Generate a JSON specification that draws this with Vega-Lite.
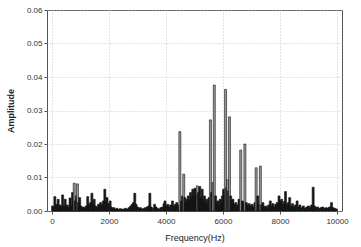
{
  "$schema": "https://vega.github.io/schema/vega-lite/v6.json",
  "width": 295,
  "height": 201,
  "autosize": "none",
  "padding": {"left": 47, "top": 10, "right": 19, "bottom": 36},
  "background": "white",
  "config": {
    "view": {"stroke": "#555", "strokeWidth": 1},
    "font": "Liberation Sans",
    "axis": {"labelFont": "Liberation Sans", "titleFont": "Liberation Sans", "labelColor": "#333", "titleColor": "#222", "labelFontSize": 8, "titleFontSize": 9, "domain": false, "tickColor": "#555", "tickSize": 3, "gridColor": "#bbb", "gridDash": [1, 2], "gridWidth": 0.8}
  },
  "data": {"values": [
    {"f":20,"a":0.0015},{"f":60,"a":0.001},{"f":100,"a":0.0043},{"f":140,"a":0.0015},{"f":180,"a":0.002},{"f":215,"a":0.0035},{"f":250,"a":0.0012},{"f":290,"a":0.0018},{"f":330,"a":0.001},{"f":373,"a":0.0048},{"f":410,"a":0.0015},{"f":463,"a":0.0035},{"f":500,"a":0.0012},{"f":540,"a":0.0018},{"f":590,"a":0.001},{"f":633,"a":0.0039},{"f":680,"a":0.0015},{"f":720,"a":0.0055},{"f":750,"a":0.002},{"f":780,"a":0.0083},{"f":820,"a":0.003},{"f":860,"a":0.0045},{"f":893,"a":0.0081},{"f":930,"a":0.0025},{"f":972,"a":0.004},{"f":1010,"a":0.0015},{"f":1060,"a":0.001},{"f":1100,"a":0.0012},{"f":1150,"a":0.0008},{"f":1200,"a":0.0015},{"f":1254,"a":0.0043},{"f":1300,"a":0.0018},{"f":1350,"a":0.0025},{"f":1400,"a":0.0053},{"f":1440,"a":0.002},{"f":1480,"a":0.0035},{"f":1530,"a":0.0015},{"f":1580,"a":0.001},{"f":1630,"a":0.002},{"f":1680,"a":0.0015},{"f":1705,"a":0.0025},{"f":1760,"a":0.0018},{"f":1800,"a":0.003},{"f":1854,"a":0.0065},{"f":1890,"a":0.0028},{"f":1930,"a":0.004},{"f":1970,"a":0.0022},{"f":2040,"a":0.003},{"f":2080,"a":0.0012},{"f":2120,"a":0.0008},{"f":2170,"a":0.001},{"f":2220,"a":0.0006},{"f":2280,"a":0.0008},{"f":2340,"a":0.0005},{"f":2400,"a":0.0007},{"f":2460,"a":0.0005},{"f":2520,"a":0.0006},{"f":2580,"a":0.0008},{"f":2640,"a":0.0006},{"f":2700,"a":0.001},{"f":2760,"a":0.0015},{"f":2810,"a":0.002},{"f":2860,"a":0.0025},{"f":2905,"a":0.0053},{"f":2950,"a":0.002},{"f":3000,"a":0.0012},{"f":3050,"a":0.0008},{"f":3100,"a":0.001},{"f":3160,"a":0.0006},{"f":3220,"a":0.0008},{"f":3280,"a":0.001},{"f":3340,"a":0.0012},{"f":3390,"a":0.0015},{"f":3434,"a":0.0053},{"f":3480,"a":0.0012},{"f":3530,"a":0.0008},{"f":3600,"a":0.002},{"f":3650,"a":0.0012},{"f":3700,"a":0.0008},{"f":3760,"a":0.0006},{"f":3820,"a":0.001},{"f":3880,"a":0.0012},{"f":3930,"a":0.0022},{"f":3966,"a":0.003},{"f":4010,"a":0.0015},{"f":4060,"a":0.002},{"f":4110,"a":0.0012},{"f":4160,"a":0.0018},{"f":4227,"a":0.003},{"f":4280,"a":0.0015},{"f":4330,"a":0.002},{"f":4380,"a":0.0025},{"f":4430,"a":0.0018},{"f":4486,"a":0.0237},{"f":4540,"a":0.003},{"f":4580,"a":0.0045},{"f":4622,"a":0.011},{"f":4660,"a":0.004},{"f":4700,"a":0.0025},{"f":4740,"a":0.0035},{"f":4780,"a":0.0045},{"f":4820,"a":0.003},{"f":4860,"a":0.0055},{"f":4900,"a":0.004},{"f":4940,"a":0.0065},{"f":4980,"a":0.0045},{"f":5017,"a":0.0068},{"f":5060,"a":0.005},{"f":5100,"a":0.0075},{"f":5140,"a":0.0055},{"f":5186,"a":0.0073},{"f":5230,"a":0.004},{"f":5270,"a":0.0065},{"f":5310,"a":0.003},{"f":5350,"a":0.0045},{"f":5390,"a":0.0025},{"f":5430,"a":0.0035},{"f":5470,"a":0.002},{"f":5510,"a":0.004},{"f":5559,"a":0.0272},{"f":5600,"a":0.0055},{"f":5650,"a":0.0085},{"f":5695,"a":0.0376},{"f":5740,"a":0.0045},{"f":5780,"a":0.0025},{"f":5820,"a":0.003},{"f":5860,"a":0.0018},{"f":5900,"a":0.0035},{"f":5940,"a":0.0025},{"f":5980,"a":0.0045},{"f":6020,"a":0.0065},{"f":6060,"a":0.0055},{"f":6090,"a":0.0363},{"f":6130,"a":0.007},{"f":6158,"a":0.0093},{"f":6190,"a":0.006},{"f":6226,"a":0.0281},{"f":6270,"a":0.0045},{"f":6310,"a":0.003},{"f":6350,"a":0.0035},{"f":6400,"a":0.002},{"f":6450,"a":0.0025},{"f":6500,"a":0.0018},{"f":6560,"a":0.0035},{"f":6622,"a":0.0182},{"f":6680,"a":0.003},{"f":6720,"a":0.0025},{"f":6768,"a":0.02},{"f":6820,"a":0.0025},{"f":6870,"a":0.0018},{"f":6920,"a":0.0022},{"f":6970,"a":0.0015},{"f":7020,"a":0.002},{"f":7070,"a":0.0012},{"f":7120,"a":0.0025},{"f":7163,"a":0.0129},{"f":7220,"a":0.0045},{"f":7260,"a":0.002},{"f":7311,"a":0.0134},{"f":7360,"a":0.0018},{"f":7400,"a":0.0025},{"f":7450,"a":0.0012},{"f":7500,"a":0.0015},{"f":7550,"a":0.001},{"f":7600,"a":0.0018},{"f":7660,"a":0.003},{"f":7700,"a":0.0015},{"f":7750,"a":0.0022},{"f":7800,"a":0.0012},{"f":7850,"a":0.002},{"f":7900,"a":0.0025},{"f":7966,"a":0.0045},{"f":8010,"a":0.003},{"f":8060,"a":0.0035},{"f":8100,"a":0.002},{"f":8150,"a":0.0028},{"f":8193,"a":0.0058},{"f":8240,"a":0.002},{"f":8290,"a":0.0025},{"f":8340,"a":0.004},{"f":8390,"a":0.0015},{"f":8440,"a":0.0022},{"f":8490,"a":0.0012},{"f":8540,"a":0.0018},{"f":8600,"a":0.003},{"f":8650,"a":0.0012},{"f":8700,"a":0.0018},{"f":8760,"a":0.001},{"f":8820,"a":0.0015},{"f":8880,"a":0.0008},{"f":8940,"a":0.0012},{"f":9000,"a":0.0015},{"f":9060,"a":0.001},{"f":9110,"a":0.0018},{"f":9163,"a":0.0071},{"f":9210,"a":0.0015},{"f":9260,"a":0.001},{"f":9320,"a":0.0012},{"f":9380,"a":0.0008},{"f":9440,"a":0.001},{"f":9500,"a":0.0012},{"f":9560,"a":0.0008},{"f":9620,"a":0.001},{"f":9680,"a":0.0008},{"f":9740,"a":0.0012},{"f":9807,"a":0.0025},{"f":9860,"a":0.001},{"f":9920,"a":0.0008},{"f":9980,"a":0.0006}
  ]},
  "mark": {"type": "bar", "orient": "vertical", "width": 2, "stroke": "#111", "strokeWidth": 0.6},
  "encoding": {
    "x": {"field": "f", "type": "quantitative", "scale": {"domain": [0, 10000], "nice": false}, "axis": {"values": [0, 2000, 4000, 6000, 8000, 10000], "format": "d", "title": "Frequency(Hz)", "titleFontWeight": "normal", "labelPadding": 3, "titlePadding": 8}},
    "y": {"field": "a", "type": "quantitative", "scale": {"domain": [0, 0.06], "nice": false}, "axis": {"values": [0, 0.01, 0.02, 0.03, 0.04, 0.05, 0.06], "format": ".2f", "title": "Amplitude", "titleFontWeight": "bold", "labelPadding": 2, "titlePadding": 11}},
    "fill": {"condition": {"test": "datum.a >= 0.0075", "value": "#9a9a9a"}, "value": "#1a1a1a"}
  }
}
